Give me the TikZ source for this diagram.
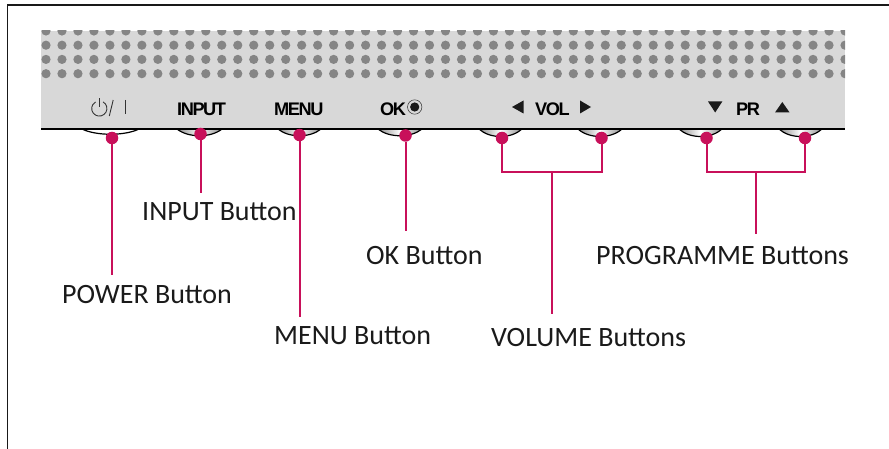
\documentclass[tikz,border=0pt]{standalone}
\usepackage{fontspec}
\setmainfont{Carlito}
\newfontfamily\panelfont[LetterSpace=-8]{Liberation Sans}
\definecolor{panelgray}{HTML}{D8D8D8}
\definecolor{dotgray}{HTML}{858585}
\definecolor{callout}{HTML}{C8105A}
\definecolor{inkblack}{HTML}{1A1A1A}
\tikzset{
  pin/.style={circle,fill=callout,draw=none,inner sep=0pt,minimum size=12.5pt},
  lead/.style={draw=callout,line width=2pt,line cap=butt},
  calloutlabel/.style={anchor=base west,inner sep=0pt,font=\fontsize{28}{30}\selectfont,text=inkblack},
  paneltext/.style={anchor=base west,inner sep=0pt,font=\panelfont\bfseries\fontsize{18.2}{20}\selectfont,text=black},
  btn/.style={left color=black!45,right color=black!45,middle color=white,draw=black,line width=1.2pt},
  whitebtn/.style={fill=white,draw=black,line width=1.2pt},
  arrowmark/.style={fill=inkblack,draw=none},
  legendline/.style={draw=black!80,line width=0.9pt}
}
\newcommand{\hwbutton}[4][btn]{% style, left x, right x, depth y
  \path[#1] (#2,129) .. controls ({#2+(#3-#2)*0.25},{#4+1}) and ({#2+(#3-#2)*0.75},{#4+1}) .. (#3,129);
}
\begin{document}
\begin{tikzpicture}[x=1pt,y=-1pt]
\useasboundingbox (0,0) rectangle (889,449);
% frame
\draw[black!90,line width=1.3pt] (7.5,449) -- (7.5,5) -- (889,5);
% buttons
\hwbutton[whitebtn]{82}{139}{135}
\hwbutton{177}{222}{137}
\hwbutton{278}{321}{137}
\hwbutton{378}{422}{137}
\hwbutton{479}{522}{138}
\hwbutton{578}{622}{138}
\hwbutton{679}{722}{138}
\hwbutton{779}{822}{138}
% panel
\fill[panelgray] (41,31) rectangle (845,129);
\begin{scope}
  \clip (41,31) rectangle (845,129);
  \foreach \r in {31,45.2,59.4,73.7}
    \foreach \c in {0,...,50}
      \fill[dotgray] ({46+15.98*\c},\r) circle (4.6);
\end{scope}
\draw[black,line width=1.8pt] (41,129) -- (845,129);
% panel legends
\draw[legendline] (103.1,101.9) arc[start angle=-60,end angle=240,radius=7.6];
\draw[legendline] (99.3,98.5) -- (99.3,107.5);
\draw[legendline] (113.2,100) -- (109.3,116);
\draw[legendline] (125.3,100) -- (125.3,114.5);
\node[paneltext] (tinput) at (177,115.5) {INPUT};
\node[paneltext] (tmenu) at (274,115.5) {MENU};
\node[paneltext] (tok) at (380,115.5) {OK};
\draw[black!80,line width=0.5pt] (414.7,107) circle (7.2);
\fill[inkblack] (414.7,107) circle (4.6);
\fill[arrowmark] (512,107) -- (523.5,100.5) -- (523.5,113.5) -- cycle;
\node[paneltext] (tvol) at (535,115.5) {VOL};
\fill[arrowmark] (580,100.5) -- (580,113.5) -- (591,107) -- cycle;
\fill[arrowmark] (708,101.5) -- (722.3,101.5) -- (715.2,112.5) -- cycle;
\node[paneltext] (tpr) at (736,115.5) {PR};
\fill[arrowmark] (775,112.5) -- (789.6,112.5) -- (782.3,102) -- cycle;
% pins
\node[pin] (ppower) at (112,138) {};
\node[pin] (pinput) at (200.5,134) {};
\node[pin] (pmenu) at (299.5,135) {};
\node[pin] (pok) at (405.5,135.5) {};
\node[pin] (pvoll) at (502,138) {};
\node[pin] (pvolr) at (601.5,138) {};
\node[pin] (pprl) at (706.5,138) {};
\node[pin] (pprr) at (805,138) {};
% free ends
\coordinate (epower) at (112,274.5);
\coordinate (einput) at (200.5,193.5);
\coordinate (emenu) at (299.5,317);
\coordinate (eok) at (405.5,231.5);
\coordinate (evolj) at (552,172);
\coordinate (evol) at (552,313.5);
\coordinate (eprj) at (756,172);
\coordinate (epr) at (756,234.5);
% leaders
\draw[lead] (ppower) -- (epower);
\draw[lead] (pinput) -- (einput);
\draw[lead] (pmenu) -- (emenu);
\draw[lead] (pok) -- (eok);
\draw[lead] (pvoll) |- (pvolr |- evolj) -- (pvolr);
\draw[lead] (evolj) -- (evol);
\draw[lead] (pprl) |- (pprr |- eprj) -- (pprr);
\draw[lead] (eprj) -- (epr);
% callout labels
\node[calloutlabel] (lpower) at (62,303.5) {POWER Button};
\node[calloutlabel] (linput) at (142,221) {INPUT Button};
\node[calloutlabel] (lok) at (366,264.5) {OK Button};
\node[calloutlabel] (lmenu) at (274,344) {MENU Button};
\node[calloutlabel] (lvol) at (491,346) {VOLUME Buttons};
\node[calloutlabel] (lpr) at (596,265) {PROGRAMME Buttons};
\end{tikzpicture}
\end{document}
